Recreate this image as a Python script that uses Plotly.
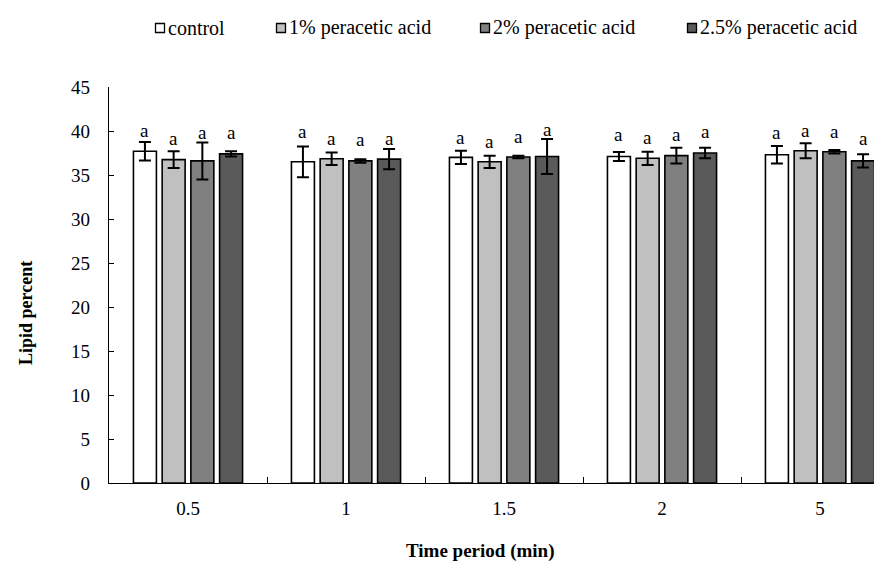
import plotly.graph_objects as go

# ---- data ----
categories = ["0.5", "1", "1.5", "2", "5"]
series_names = ["control", "1% peracetic acid", "2% peracetic acid", "2.5% peracetic acid"]

control = [37.7, 36.5, 37.0, 37.1, 37.3]
control_err = [1.05, 1.75, 0.75, 0.5, 1.0]
pa1 = [36.75, 36.85, 36.5, 36.9, 37.75]
pa1_err = [0.95, 0.7, 0.7, 0.75, 0.85]
pa2 = [36.6, 36.6, 37.05, 37.2, 37.65]
pa2_err = [2.1, 0.2, 0.15, 0.9, 0.2]
pa25 = [37.4, 36.8, 37.1, 37.5, 36.6]
pa25_err = [0.3, 1.15, 2.0, 0.6, 0.75]

letters_control = ["a", "a", "a", "a", "a"]
letters_pa1 = ["a", "a", "a", "a", "a"]
letters_pa2 = ["a", "a", "a", "a", "a"]
letters_pa25 = ["a", "a", "a", "a", "a"]
# vertical position of the letters (data units)
letter_y_control = [40.1, 40.0, 39.3, 39.6, 39.8]
letter_y_pa1 = [39.1, 39.2, 38.8, 39.3, 40.1]
letter_y_pa2 = [39.8, 39.0, 39.4, 39.6, 40.0]
letter_y_pa25 = [39.8, 39.1, 40.2, 39.9, 39.1]

y_ticks = [0, 5, 10, 15, 20, 25, 30, 35, 40, 45]

# ---- styling ----
colors = ["#ffffff", "#c0c0c0", "#808080", "#5a5a5a"]
FONT = "Liberation Serif"
BARGAP = 0.273
BARGROUPGAP = 0.2

values = [control, pa1, pa2, pa25]
errors = [control_err, pa1_err, pa2_err, pa25_err]
letters = [letters_control, letters_pa1, letters_pa2, letters_pa25]
letter_ys = [letter_y_control, letter_y_pa1, letter_y_pa2, letter_y_pa25]

fig = go.Figure()
for name, vals, errs, col in zip(series_names, values, errors, colors):
    fig.add_trace(go.Bar(
        x=categories, y=vals, name=name,
        marker=dict(color=col, line=dict(color="black", width=1.6)),
        error_y=dict(type="data", array=errs, visible=True,
                     color="black", thickness=2, width=6),
        showlegend=False,
    ))

# letters above bars: category index + offset of each bar within its group
n = len(series_names)
slot = (1 - BARGAP) / n
annotations = []
for k in range(n):
    off = (k - (n - 1) / 2) * slot
    for i in range(len(categories)):
        annotations.append(dict(
            x=i + off, y=letter_ys[k][i], xref="x", yref="y",
            text=letters[k][i], showarrow=False,
            font=dict(family=FONT, size=19, color="black"),
            yanchor="middle", xanchor="center",
        ))

# plot-area geometry in pixels (for placing titles / legend)
L, T, W, H = 101, 79, 781, 396

def px_x(p):
    return (p - L) / W

def px_y(p):
    return (T + H - p) / H

annotations.append(dict(
    x=px_x(472), y=px_y(543), xref="paper", yref="paper",
    text="<b>Time period (min)</b>", showarrow=False,
    xanchor="center", yanchor="middle",
    font=dict(family=FONT, size=19, color="black"),
))
annotations.append(dict(
    x=px_x(18), y=px_y(305), xref="paper", yref="paper",
    text="<b>Lipid percent</b>", showarrow=False, textangle=-90,
    xanchor="center", yanchor="middle",
    font=dict(family=FONT, size=18, color="black"),
))

# manual legend (square + text, as in the reference)
legend_sq_x = [152, 273, 477, 684]
LEG_Y = 20
shapes = []
for name, col, sx in zip(series_names, colors, legend_sq_x):
    shapes.append(dict(
        type="rect", xref="paper", yref="paper",
        x0=px_x(sx - 4.5), x1=px_x(sx + 4.5),
        y0=px_y(LEG_Y + 4.5), y1=px_y(LEG_Y - 4.5),
        fillcolor=col, line=dict(color="black", width=1.3),
    ))
    annotations.append(dict(
        x=px_x(sx + 6), y=px_y(LEG_Y), xref="paper", yref="paper",
        text=name, showarrow=False, xanchor="left", yanchor="middle",
        font=dict(family=FONT, size=20, color="black"),
    ))

fig.update_layout(
    width=882, height=562,
    margin=dict(l=L, r=882 - L - W, t=T, b=562 - T - H, pad=0),
    paper_bgcolor="white", plot_bgcolor="white",
    barmode="group", bargap=BARGAP, bargroupgap=BARGROUPGAP,
    font=dict(family=FONT, size=18, color="black"),
    annotations=annotations, shapes=shapes,
    xaxis=dict(
        type="category", range=[-0.5, 4.5 - 9 / 158],
        showline=True, linecolor="black", linewidth=1.2,
        ticks="inside", tickson="boundaries", ticklen=6, tickcolor="black",
        ticklabelstandoff=8,
        tickfont=dict(family=FONT, size=19, color="black"),
        showgrid=False, zeroline=False,
    ),
    yaxis=dict(
        range=[0, 45], tickvals=y_ticks,
        showline=True, linecolor="black", linewidth=1.2,
        ticks="inside", ticklen=5, tickcolor="black",
        ticklabelstandoff=14,
        tickfont=dict(family=FONT, size=19, color="black"),
        showgrid=False, zeroline=False,
    ),
)

fig.write_html("out.html")
